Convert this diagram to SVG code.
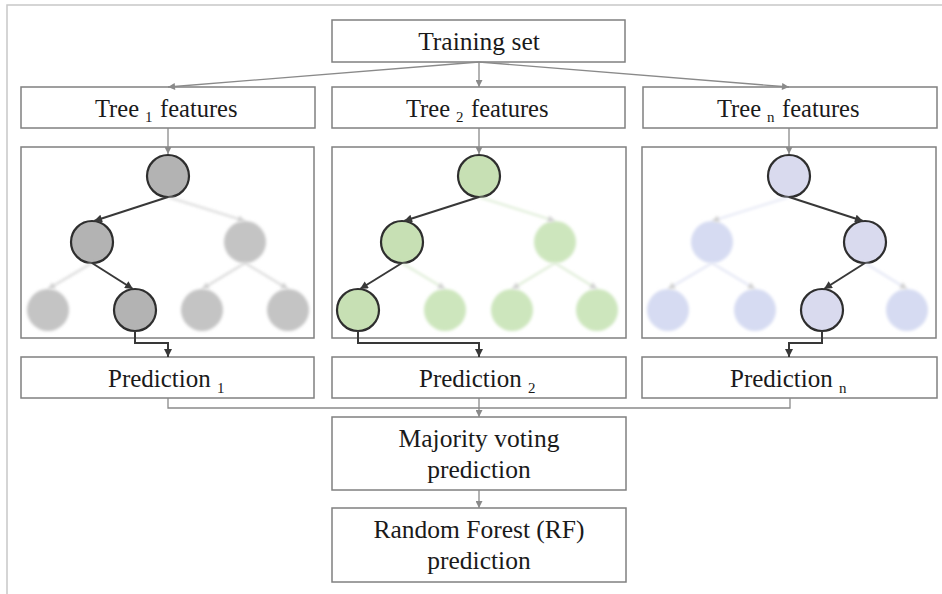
<svg xmlns="http://www.w3.org/2000/svg" width="942" height="594" viewBox="0 0 942 594">
<defs>
<style>
.box{fill:#ffffff;stroke:#808080;stroke-width:1.5}
.lbl{font-family:'Liberation Serif','Times New Roman',serif;font-size:25.5px;fill:#1a1a1a;text-anchor:middle}
.pl{font-family:'Liberation Serif','Times New Roman',serif;font-size:25px;fill:#1a1a1a}
.sub{font-size:15px}
.gc{stroke:#8a8a8a;stroke-width:1.3;fill:none}
.dk{stroke:#383838;stroke-width:2;fill:none}
.ft{stroke:#cfcfcf;stroke-width:1.6;fill:none}
.hn{stroke:#2e2e2e;stroke-width:2.2}
.fd{filter:url(#blur)}
</style>
<filter id="blur" x="-30%" y="-30%" width="160%" height="160%"><feGaussianBlur stdDeviation="1.6"/></filter>
<marker id="ag" viewBox="0 0 10 10" refX="10" refY="5" markerWidth="8" markerHeight="7" markerUnits="userSpaceOnUse" orient="auto"><path d="M0,0 L10,5 L0,10 z" fill="#8a8a8a"/></marker>
<marker id="ad" viewBox="0 0 10 10" refX="10" refY="5" markerWidth="9" markerHeight="8" markerUnits="userSpaceOnUse" orient="auto"><path d="M0,0 L10,5 L0,10 z" fill="#383838"/></marker>
<marker id="af" viewBox="0 0 10 10" refX="10" refY="5" markerWidth="8" markerHeight="7" markerUnits="userSpaceOnUse" orient="auto"><path d="M0,0 L10,5 L0,10 z" fill="#cfcfcf"/></marker>
</defs>
<rect x="0" y="0" width="942" height="594" fill="#ffffff"/>
<path d="M7,594 V5 H942" fill="none" stroke="#c8c8c8" stroke-width="1.5"/>

<g id="training-set"><rect class="box" x="332" y="20" width="293" height="42"/><text class="lbl" x="479" y="50">Training set</text></g>

<g id="tree1-features"><rect class="box" x="21" y="87" width="294" height="41"/><text class="pl" x="95" y="117" style="font-size:24.5px">Tree<tspan class="sub" x="145" dy="5">1</tspan><tspan x="160" dy="-5">features</tspan></text></g>
<g id="tree2-features"><rect class="box" x="332" y="87" width="293" height="41"/><text class="pl" x="406" y="117" style="font-size:24.5px">Tree<tspan class="sub" x="456" dy="5">2</tspan><tspan x="471" dy="-5">features</tspan></text></g>
<g id="treen-features"><rect class="box" x="643" y="87" width="294" height="41"/><text class="pl" x="717" y="117" style="font-size:24.5px">Tree<tspan class="sub" x="767" dy="5">n</tspan><tspan x="782" dy="-5">features</tspan></text></g>

<g id="tree1">
<rect class="box" x="21" y="147" width="293" height="191"/>
<g fill="#c4c4c4" class="fd"><circle cx="245" cy="242" r="21"/><circle cx="48" cy="310" r="21"/><circle cx="202" cy="310" r="21"/><circle cx="288" cy="310" r="21"/></g>
<g fill="#b3b3b3" class="hn"><circle cx="168" cy="176" r="21"/><circle cx="92" cy="242" r="21"/><circle cx="135" cy="310" r="21"/></g>
</g>
<g id="tree2">
<rect class="box" x="332" y="147" width="294" height="191"/>
<g fill="#cde6bd" class="fd"><circle cx="555" cy="242" r="21"/><circle cx="445" cy="310" r="21"/><circle cx="512" cy="310" r="21"/><circle cx="597" cy="310" r="21"/></g>
<g fill="#c7e0b4" class="hn"><circle cx="479" cy="176" r="21"/><circle cx="402" cy="242" r="21"/><circle cx="358" cy="310" r="21"/></g>
</g>
<g id="treen">
<rect class="box" x="642" y="147" width="294" height="191"/>
<g fill="#d6dbf2" class="fd"><circle cx="712" cy="242" r="21"/><circle cx="668" cy="310" r="21"/><circle cx="755" cy="310" r="21"/><circle cx="907" cy="310" r="21"/></g>
<g fill="#d9daee" class="hn"><circle cx="789" cy="176" r="21"/><circle cx="865" cy="242" r="21"/><circle cx="822" cy="310" r="21"/></g>
</g>

<g id="prediction1"><rect class="box" x="21" y="357" width="293" height="41"/><text class="pl" x="108" y="387">Prediction<tspan class="sub" x="217" dy="6">1</tspan></text></g>
<g id="prediction2"><rect class="box" x="332" y="357" width="294" height="41"/><text class="pl" x="419" y="387">Prediction<tspan class="sub" x="528" dy="6">2</tspan></text></g>
<g id="predictionn"><rect class="box" x="642" y="357" width="295" height="41"/><text class="pl" x="730" y="387">Prediction<tspan class="sub" x="839" dy="6">n</tspan></text></g>

<g id="majority"><rect class="box" x="332" y="417" width="294" height="73"/><text class="lbl" x="479" y="447">Majority voting</text><text class="lbl" x="479" y="478">prediction</text></g>
<g id="rf"><rect class="box" x="332" y="508" width="294" height="74"/><text class="lbl" x="479" y="538">Random Forest (RF)</text><text class="lbl" x="479" y="569">prediction</text></g>

<g id="connectors">
<path class="gc" d="M479,62 L168,87" marker-end="url(#ag)"/>
<path class="gc" d="M479,62 L479,87" marker-end="url(#ag)"/>
<path class="gc" d="M479,62 L789,87" marker-end="url(#ag)"/>
<path class="gc" d="M168,128 V154" marker-end="url(#ag)"/>
<path class="gc" d="M479,128 V154" marker-end="url(#ag)"/>
<path class="gc" d="M789,128 V154" marker-end="url(#ag)"/>
<g class="fd">
<path class="ft" d="M168,197 L245,221" marker-end="url(#af)"/>
<path class="ft" d="M92,263 L48,289" marker-end="url(#af)"/>
<path class="ft" d="M245,263 L202,289" marker-end="url(#af)"/>
<path class="ft" d="M245,263 L288,289" marker-end="url(#af)"/>
<path class="ft" d="M479,197 L555,221" style="stroke:#d6e8cc" marker-end="url(#af)"/>
<path class="ft" d="M402,263 L445,289" style="stroke:#d6e8cc" marker-end="url(#af)"/>
<path class="ft" d="M555,263 L512,289" style="stroke:#d6e8cc" marker-end="url(#af)"/>
<path class="ft" d="M555,263 L597,289" style="stroke:#d6e8cc" marker-end="url(#af)"/>
<path class="ft" d="M789,197 L712,221" style="stroke:#dde0f2" marker-end="url(#af)"/>
<path class="ft" d="M712,263 L668,289" style="stroke:#dde0f2" marker-end="url(#af)"/>
<path class="ft" d="M712,263 L755,289" style="stroke:#dde0f2" marker-end="url(#af)"/>
<path class="ft" d="M865,263 L907,289" style="stroke:#dde0f2" marker-end="url(#af)"/>
</g>
<path class="dk" d="M168,197 L94,221" marker-end="url(#ad)"/>
<path class="dk" d="M92,263 L133,289" marker-end="url(#ad)"/>
<path class="dk" d="M135,331 V343 H168 V357" marker-end="url(#ad)"/>
<path class="dk" d="M479,197 L404,221" marker-end="url(#ad)"/>
<path class="dk" d="M402,263 L360,289" marker-end="url(#ad)"/>
<path class="dk" d="M358,331 V343 H479 V357" marker-end="url(#ad)"/>
<path class="dk" d="M789,197 L863,221" marker-end="url(#ad)"/>
<path class="dk" d="M865,263 L824,289" marker-end="url(#ad)"/>
<path class="dk" d="M822,331 V343 H789 V357" marker-end="url(#ad)"/>
<path class="gc" d="M168,398 V408 H790 V398"/>
<path class="gc" d="M479,398 V417" marker-end="url(#ag)"/>
<path class="gc" d="M479,490 V508" marker-end="url(#ag)"/>
</g>
</svg>
